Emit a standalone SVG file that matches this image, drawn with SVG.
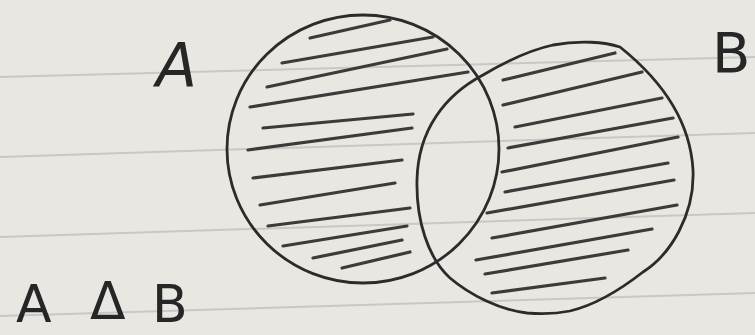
<svg xmlns="http://www.w3.org/2000/svg" width="755" height="335" viewBox="0 0 755 335">
  <style>
    .paper { fill: #e9e7e2; }
    .rule { stroke: #c9c8c4; stroke-width: 2; fill: none; }
    .outline { fill: none; stroke: #2b2b2b; stroke-width: 2.8; stroke-linejoin: round; }
    .hatch { stroke: #3b3b3b; stroke-width: 3.2; stroke-linecap: round; fill: none; }
    .label { font-family: "DejaVu Sans", "Liberation Sans", sans-serif; fill: #262626; font-weight: normal; }
  </style>
  <rect class="paper" x="0" y="0" width="755" height="335"/>
  <g id="paper-rules">
    <line class="rule" x1="0" y1="77" x2="755" y2="57"/>
    <line class="rule" x1="0" y1="157" x2="755" y2="133"/>
    <line class="rule" x1="0" y1="237" x2="755" y2="213"/>
    <line class="rule" x1="0" y1="316" x2="755" y2="293"/>
  </g>

  <g id="set-A">
    <ellipse class="outline" cx="363" cy="149" rx="136" ry="134"/>
    <g id="hatch-A">
      <line class="hatch" x1="310" y1="38" x2="390" y2="20"/>
      <line class="hatch" x1="282" y1="63" x2="433" y2="37"/>
      <line class="hatch" x1="267" y1="87" x2="447" y2="49"/>
      <line class="hatch" x1="250" y1="107" x2="468" y2="72"/>
      <line class="hatch" x1="263" y1="128" x2="413" y2="114"/>
      <line class="hatch" x1="248" y1="150" x2="412" y2="128"/>
      <line class="hatch" x1="253" y1="178" x2="402" y2="160"/>
      <line class="hatch" x1="260" y1="205" x2="395" y2="183"/>
      <line class="hatch" x1="268" y1="226" x2="410" y2="208"/>
      <line class="hatch" x1="283" y1="246" x2="407" y2="226"/>
      <line class="hatch" x1="313" y1="258" x2="402" y2="240"/>
      <line class="hatch" x1="342" y1="268" x2="410" y2="252"/>
    </g>
  </g>

  <g id="set-B">
    <path class="outline" d="M 620,47 C 655,75 690,115 693,170 C 695,215 670,255 643,272 C 620,290 595,305 570,311 C 555,314 540,314 527,313 C 500,310 470,295 450,278 C 428,258 416,220 417,180 C 418,130 445,95 483,75 C 505,62 530,50 553,45 C 580,40 605,42 620,47 Z"/>
    <g id="hatch-B">
      <line class="hatch" x1="503" y1="80" x2="615" y2="53"/>
      <line class="hatch" x1="503" y1="105" x2="642" y2="72"/>
      <line class="hatch" x1="515" y1="127" x2="662" y2="98"/>
      <line class="hatch" x1="508" y1="148" x2="673" y2="118"/>
      <line class="hatch" x1="502" y1="172" x2="678" y2="137"/>
      <line class="hatch" x1="505" y1="192" x2="668" y2="163"/>
      <line class="hatch" x1="487" y1="213" x2="674" y2="180"/>
      <line class="hatch" x1="492" y1="238" x2="677" y2="205"/>
      <line class="hatch" x1="476" y1="260" x2="652" y2="229"/>
      <line class="hatch" x1="485" y1="274" x2="628" y2="250"/>
      <line class="hatch" x1="492" y1="293" x2="605" y2="278"/>
    </g>
  </g>

  <g id="label-A">
    <text class="label" x="156" y="86" font-size="60" font-style="italic">A</text>
  </g>
  <g id="label-B">
    <text class="label" x="712" y="72" font-size="56">B</text>
  </g>
  <g id="label-expression">
    <text class="label" y="322" font-size="52"><tspan x="16">A</tspan><tspan x="90" font-size="52" dy="-3">Δ</tspan><tspan x="152" dy="3">B</tspan></text>
  </g>

  <g id="connectors"></g>
</svg>
